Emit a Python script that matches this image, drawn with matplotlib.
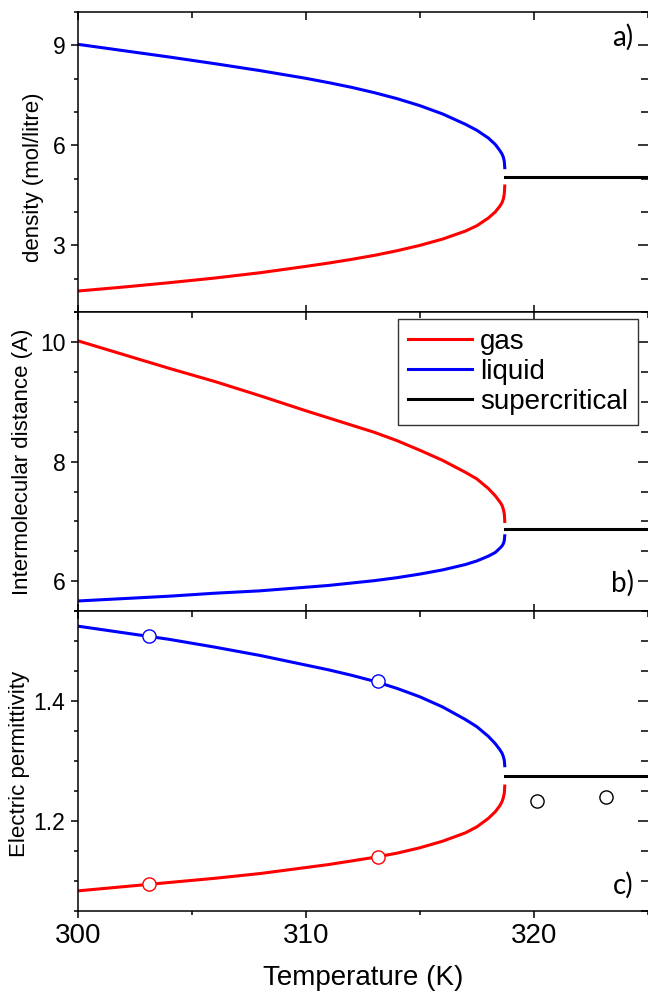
import matplotlib
matplotlib.use('Agg')
import matplotlib.pyplot as plt
from matplotlib.ticker import MultipleLocator
from matplotlib.lines import Line2D

plt.rcParams['font.family'] = ['Liberation Sans', 'DejaVu Sans']

# temperatures along the two-phase branches (K)
T = [300, 302, 304, 306, 308, 310, 311, 312, 313, 314, 315, 316, 317,
     317.5, 318, 318.3, 318.5, 318.6, 318.66, 318.7, 318.72]

# a) density (mol/litre)
dens_liq = [9.03, 8.84, 8.65, 8.45, 8.24, 8.01, 7.88, 7.74, 7.58, 7.40, 7.19,
            6.94, 6.63, 6.45, 6.22, 6.03, 5.85, 5.74, 5.64, 5.52, 5.33]
dens_gas = [1.63, 1.75, 1.88, 2.02, 2.18, 2.37, 2.47, 2.58, 2.70, 2.84, 3.00,
            3.19, 3.43, 3.59, 3.82, 4.00, 4.17, 4.28, 4.40, 4.54, 4.78]

# b) intermolecular distance (A)
dist_gas = [10.02, 9.79, 9.56, 9.34, 9.10, 8.85, 8.73, 8.61, 8.49, 8.35, 8.19,
            8.02, 7.82, 7.71, 7.55, 7.43, 7.33, 7.27, 7.20, 7.13, 7.00]
dist_liq = [5.67, 5.71, 5.75, 5.80, 5.84, 5.90, 5.93, 5.97, 6.01, 6.06, 6.12,
            6.19, 6.28, 6.34, 6.42, 6.48, 6.55, 6.59, 6.63, 6.68, 6.76]

# c) electric permittivity
eps_liq = [1.525, 1.514, 1.503, 1.490, 1.476, 1.460, 1.452, 1.443, 1.433, 1.421,
           1.407, 1.390, 1.369, 1.357, 1.341, 1.329, 1.319, 1.313, 1.307, 1.301,
           1.292]
eps_gas = [1.083, 1.090, 1.097, 1.104, 1.112, 1.122, 1.127, 1.133, 1.139, 1.146,
           1.155, 1.166, 1.180, 1.190, 1.204, 1.215, 1.225, 1.232, 1.239, 1.246,
           1.258]

# supercritical branch
T_sc = [318.75, 325]
dens_sc = [5.06, 5.06]
dist_sc = [6.87, 6.87]
eps_sc = [1.275, 1.275]

# measured permittivity points
T_meas = [303.13, 313.17]
eps_liq_meas = [1.509, 1.434]
eps_gas_meas = [1.094, 1.140]
T_meas_sc = [320.15, 323.15]
eps_sc_meas = [1.233, 1.239]

fig = plt.figure(figsize=(6.48, 9.97), dpi=100)
left, right = 0.12, 1.0
ax_a = fig.add_axes([left, 0.687, right - left, 0.301])
ax_b = fig.add_axes([left, 0.387, right - left, 0.300])
ax_c = fig.add_axes([left, 0.0866, right - left, 0.3004])

lw = 2.2
ax_a.plot(T, dens_liq, color='#0000ff', lw=lw)
ax_a.plot(T, dens_gas, color='#ff0000', lw=lw)
ax_a.plot(T_sc, dens_sc, color='black', lw=lw)

ax_b.plot(T, dist_gas, color='#ff0000', lw=lw)
ax_b.plot(T, dist_liq, color='#0000ff', lw=lw)
ax_b.plot(T_sc, dist_sc, color='black', lw=lw)

ax_c.plot(T, eps_liq, color='#0000ff', lw=lw)
ax_c.plot(T, eps_gas, color='#ff0000', lw=lw)
ax_c.plot(T_sc, eps_sc, color='black', lw=lw)
mk = dict(marker='o', ls='none', ms=9.5, mfc='white', mew=1.0, zorder=5)
ax_c.plot(T_meas, eps_liq_meas, mec='#0000ff', **mk)
ax_c.plot(T_meas, eps_gas_meas, mec='#ff0000', **mk)
ax_c.plot(T_meas_sc, eps_sc_meas, mec='black', **mk)

ax_a.set_ylim(1, 10)
ax_a.yaxis.set_major_locator(MultipleLocator(3))
ax_a.yaxis.set_minor_locator(MultipleLocator(1))
ax_b.set_ylim(5.5, 10.5)
ax_b.yaxis.set_major_locator(MultipleLocator(2))
ax_b.yaxis.set_minor_locator(MultipleLocator(0.5))
ax_c.set_ylim(1.05, 1.55)
ax_c.yaxis.set_major_locator(MultipleLocator(0.2))
ax_c.yaxis.set_minor_locator(MultipleLocator(0.05))

for ax in (ax_a, ax_b, ax_c):
    ax.set_xlim(300, 325)
    ax.xaxis.set_major_locator(MultipleLocator(10))
    ax.xaxis.set_minor_locator(MultipleLocator(5))
    for s in ax.spines.values():
        s.set_linewidth(1.1)
    ax.spines['right'].set_visible(False)
    ax.tick_params(axis='both', which='both', direction='out', width=1.1,
                   top=False, right=False)
    ax.tick_params(axis='both', which='major', length=5)
    ax.tick_params(axis='both', which='minor', length=3)
    ax.tick_params(axis='y', labelsize=16.5, pad=4)
    ax.tick_params(axis='x', labelsize=20, pad=4)
    # inward ticks on top and right
    top = ax.secondary_xaxis('top')
    top.xaxis.set_major_locator(MultipleLocator(10))
    top.xaxis.set_minor_locator(MultipleLocator(5))
    top.tick_params(which='both', direction='in', labeltop=False, width=1.1)
    top.tick_params(which='major', length=6)
    top.tick_params(which='minor', length=4)
    top.spines['top'].set_visible(False)
    rgt = ax.secondary_yaxis('right')
    rgt.yaxis.set_major_locator(ax.yaxis.get_major_locator())
    rgt.yaxis.set_minor_locator(ax.yaxis.get_minor_locator())
    rgt.tick_params(which='both', direction='in', labelright=False, width=1.1)
    rgt.tick_params(which='major', length=7)
    rgt.tick_params(which='minor', length=5)
    rgt.spines['right'].set_visible(False)

for ax in (ax_a, ax_b):
    ax.tick_params(axis='x', labelbottom=False, direction='inout')
    ax.tick_params(axis='x', which='major', length=10)
    ax.tick_params(axis='x', which='minor', length=7)

ax_a.set_ylabel('density (mol/litre)', fontsize=16)
ax_b.set_ylabel('Intermolecular distance (A)', fontsize=16)
ax_c.set_ylabel('Electric permittivity', fontsize=16)
ax_a.yaxis.set_label_coords(-0.06, 0.45)
ax_b.yaxis.set_label_coords(-0.078, 0.5)
ax_c.yaxis.set_label_coords(-0.083, 0.49)
ax_c.set_xlabel('Temperature (K)', fontsize=20)
ax_c.xaxis.set_label_coords(0.5, -0.18)

lab = dict(fontsize=20, family=['Lato', 'DejaVu Sans'], ha='right', va='center')
ax_a.text(0.975, 0.916, 'a)', transform=ax_a.transAxes, **lab)
ax_b.text(0.975, 0.094, 'b)', transform=ax_b.transAxes, **lab)
ax_c.text(0.975, 0.086, 'c)', transform=ax_c.transAxes, **lab)

handles = [Line2D([], [], color='#ff0000', lw=lw),
           Line2D([], [], color='#0000ff', lw=lw),
           Line2D([], [], color='black', lw=lw)]
leg = ax_b.legend(handles, ['gas', 'liquid', 'supercritical'], loc='upper right',
                  bbox_to_anchor=(0.9825, 0.977), borderaxespad=0, fontsize=20,
                  fancybox=False, framealpha=1, edgecolor='#333333',
                  handlelength=2.3, handletextpad=0.3, labelspacing=0.15,
                  borderpad=0.35)
leg.get_frame().set_linewidth(1.0)

fig.savefig('out.png', dpi=100)
